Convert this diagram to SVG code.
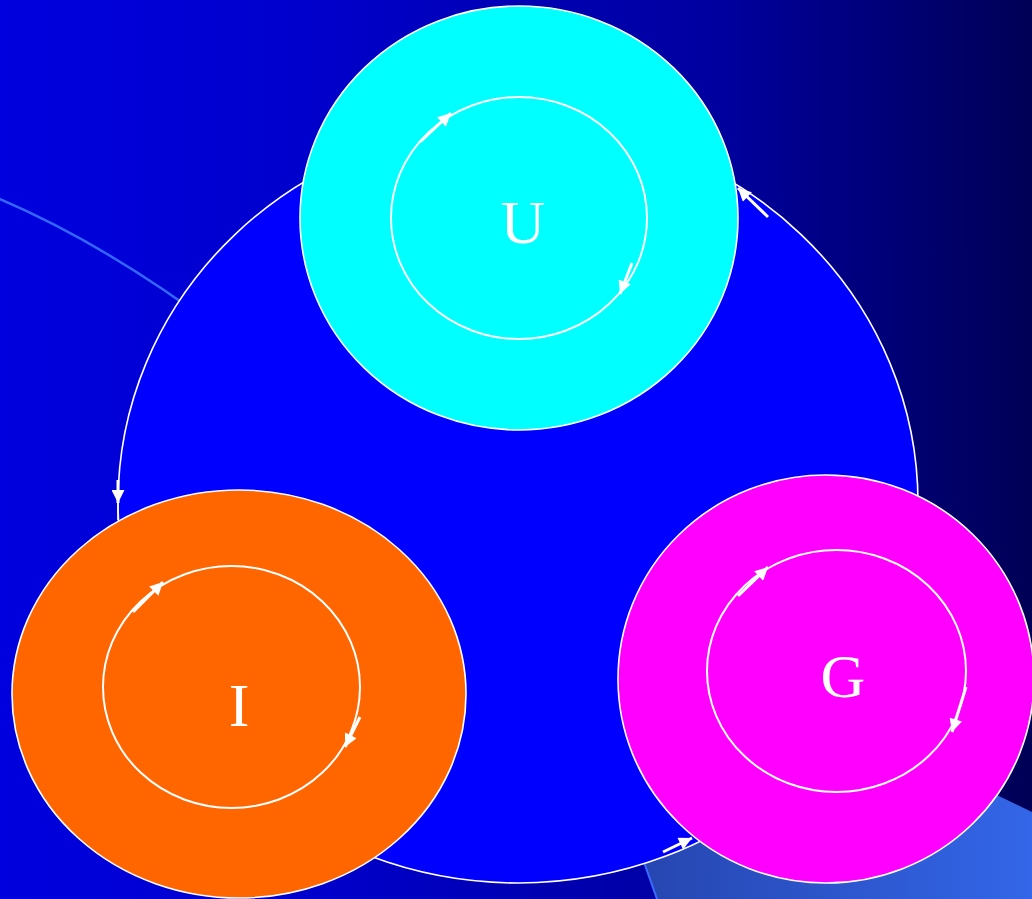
<svg xmlns="http://www.w3.org/2000/svg" width="1032" height="899" viewBox="0 0 1032 899">
<defs>
<linearGradient id="bg" x1="0" y1="0" x2="1032" y2="0" gradientUnits="userSpaceOnUse">
<stop offset="0" stop-color="#0000DE"/>
<stop offset="0.3" stop-color="#0000CC"/>
<stop offset="0.7" stop-color="#00009E"/>
<stop offset="1" stop-color="#000055"/>
</linearGradient>
<linearGradient id="slab" x1="640" y1="0" x2="1032" y2="0" gradientUnits="userSpaceOnUse">
<stop offset="0" stop-color="#2646B0"/>
<stop offset="1" stop-color="#3366E8"/>
</linearGradient>
<marker id="ah" viewBox="0 0 10 10" refX="10" refY="5" markerWidth="16" markerHeight="13" markerUnits="userSpaceOnUse" orient="auto">
<path d="M0,0 L10,5 L0,10 z" fill="#FFFFFF"/>
</marker>
<style>
.node{stroke:#FFFFFF;stroke-width:1.6}
.inner{fill:none;stroke:#FFFFFF;stroke-width:2}
.lbl{font-family:"Liberation Serif","Times New Roman",serif;font-size:62px;fill:#FFFFFF;text-anchor:middle}
.arr{stroke:#FFFFFF;stroke-width:3;fill:none;marker-end:url(#ah)}
.conn{stroke:#FFFFFF;stroke-width:1.6;fill:none}
</style>
</defs>
<rect x="0" y="0" width="1032" height="899" fill="url(#bg)"/>
<polygon points="543,576 1032,812 1032,899 657,899" fill="url(#slab)"/>
<line x1="543" y1="576" x2="657" y2="899" stroke="#3A6AFF" stroke-width="2"/>
<path d="M -10 195 Q 100 240 220 330" fill="none" stroke="#3366FF" stroke-width="2.5"/>
<g id="cycle">
<ellipse cx="518" cy="503" rx="400" ry="380" fill="#0000FF" class="node"/>
</g>
<g id="connectors">
<line class="arr" x1="768" y1="217" x2="738" y2="188"/>
<line class="conn" x1="118" y1="480" x2="118" y2="520"/>
<line class="arr" x1="118" y1="480" x2="118" y2="503"/>
<line class="arr" x1="663" y1="852" x2="692" y2="838"/>
</g>
<g id="node-U">
<ellipse cx="519" cy="218" rx="219" ry="212" fill="#00FFFF" class="node"/>
<ellipse cx="519" cy="218" rx="128" ry="121" class="inner"/>
<line class="arr" x1="420" y1="142" x2="451" y2="113"/>
<line class="arr" x1="632" y1="263" x2="620" y2="294"/>
<text class="lbl" x="523" y="243">U</text>
</g>
<g id="node-I">
<ellipse cx="239" cy="694" rx="227" ry="204" fill="#FF6600" class="node"/>
<ellipse cx="231.5" cy="687" rx="128.5" ry="121" class="inner"/>
<line class="arr" x1="133" y1="612" x2="163" y2="582"/>
<line class="arr" x1="360" y1="717" x2="345" y2="747"/>
<text class="lbl" x="239" y="726">I</text>
</g>
<g id="node-G">
<ellipse cx="826" cy="679" rx="208" ry="204" fill="#FF00FF" class="node"/>
<ellipse cx="836.5" cy="671" rx="129.5" ry="121" class="inner"/>
<line class="arr" x1="738" y1="596" x2="768" y2="567"/>
<line class="arr" x1="966" y1="687" x2="952" y2="732"/>
<text class="lbl" x="843" y="697">G</text>
</g>
</svg>
